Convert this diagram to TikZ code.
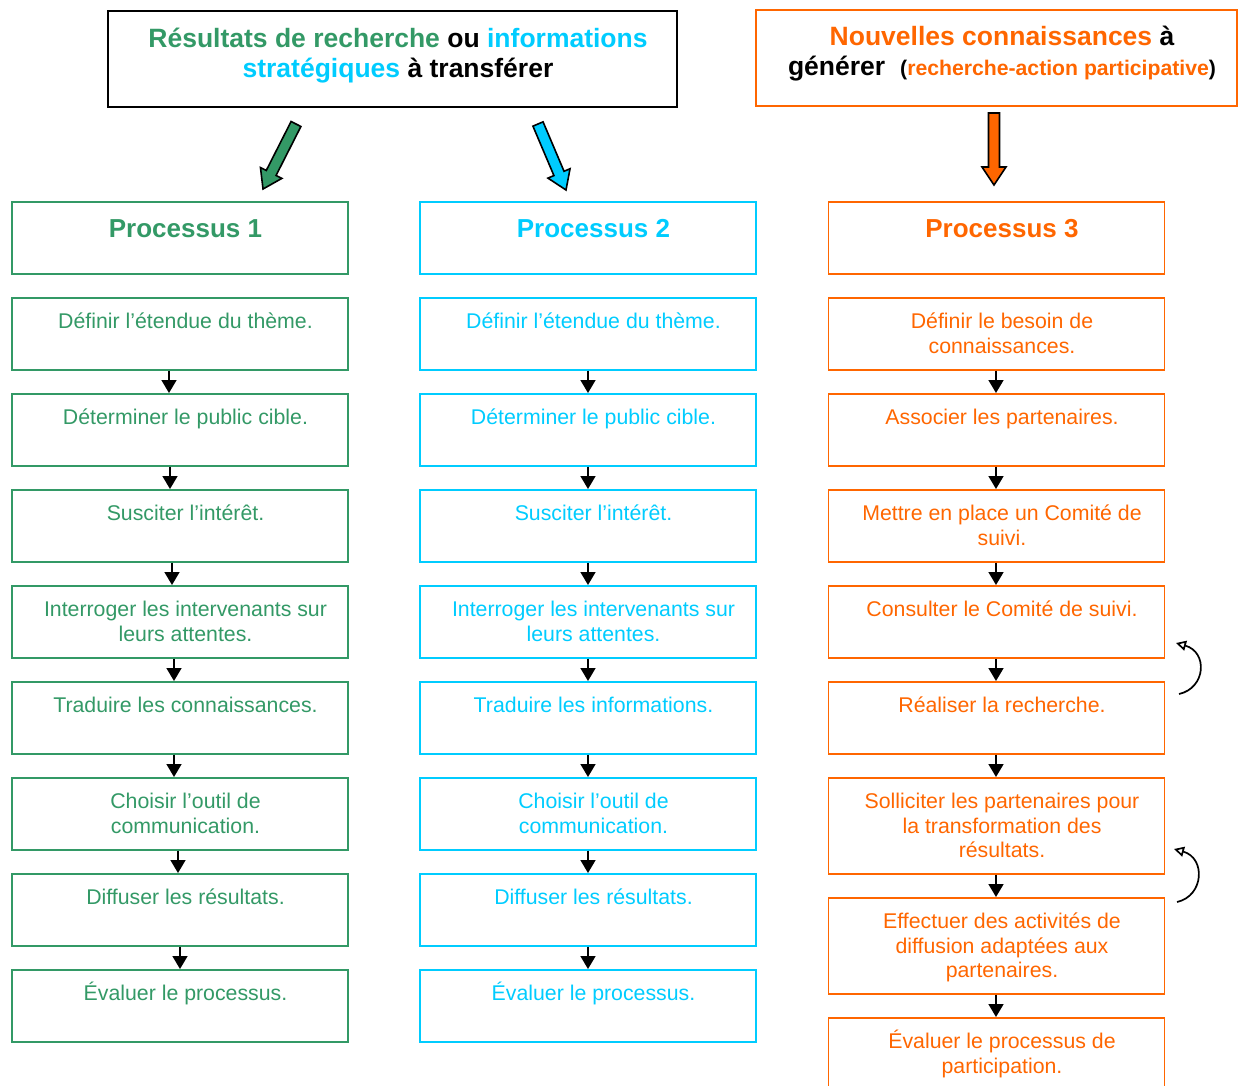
\documentclass[tikz,border=0pt]{standalone}
\usepackage{fontspec}
\setmainfont{Liberation Sans}
\usetikzlibrary{arrows.meta}
\definecolor{pgreen}{HTML}{339966}
\definecolor{pcyan}{HTML}{00CCFF}
\definecolor{porange}{HTML}{FF6600}
\newcommand\stxt[2][336]{\hspace*{11pt}\parbox[t]{\dimexpr#1pt-11pt\relax}{\centering #2}}
\newcommand\blockarrow[4]{%
  \draw[line width=1.6pt, fill=#1, line join=miter, shift={#2}, rotate=#3]
    (0,-5.5) -- (#4-18,-5.5) -- (#4-18,-12) -- (#4,0) -- (#4-18,12) -- (#4-18,5.5) -- (0,5.5) -- cycle;}
\tikzset{
  stepbox/.style={draw=#1, text=#1, line width=1.7pt, anchor=north, inner sep=0pt,
    minimum width=336pt, text height=31pt, text depth=41pt,
    font=\fontsize{21.3pt}{24.5pt}\selectfont},
  headbox/.style={stepbox=#1, text height=36pt, text depth=36pt,
    font=\fontsize{26pt}{30pt}\selectfont\bfseries},
  titlebox/.style={draw=#1, line width=1.7pt, anchor=north, inner sep=0pt,
    text height=37pt, text depth=59pt, font=\fontsize{26.5pt}{30pt}\selectfont\bfseries},
  flow/.style={-{Triangle[length=13pt,width=15pt]}, line width=1.7pt, black},
  backarrow/.style={-{Triangle[open,length=10pt,width=10pt]}, line width=1.7pt, black},
}
\begin{document}
\begin{tikzpicture}[x=1pt,y=-1pt]
\useasboundingbox (0,0) rectangle (1239,1086);

% titles
\node[titlebox=black, minimum width=569pt] (t1) at (392.5,10)
  {\stxt[569]{\textcolor{pgreen}{Résultats de recherche} ou \textcolor{pcyan}{informations}\\
   \textcolor{pcyan}{stratégiques} à transférer}};
\node[titlebox=porange, minimum width=481pt, text height=36pt, text depth=60pt] (t2) at (996.5,9)
  {\stxt[481]{\textcolor{porange}{Nouvelles connaissances} à\\
   générer\hspace{15pt}{\fontsize{21.2pt}{30pt}\selectfont(\textcolor{porange}{recherche-action participative})}}};

% block arrows
\blockarrow{pgreen}{(296,124)}{243.1}{72.9}
\blockarrow{pcyan}{(538,124)}{293.0}{71.7}
\blockarrow{porange}{(994,113)}{270}{72}

% column 1
\node[headbox=pgreen] (h1) at (180,201) {\stxt{Processus 1}};
\node[stepbox=pgreen] (a1) at (180,297) {\stxt{Définir l’étendue du thème.}};
\node[stepbox=pgreen] (a2) at (180,393) {\stxt{Déterminer le public cible.}};
\node[stepbox=pgreen] (a3) at (180,489) {\stxt{Susciter l’intérêt.}};
\node[stepbox=pgreen] (a4) at (180,585) {\stxt{Interroger les intervenants sur\\leurs attentes.}};
\node[stepbox=pgreen] (a5) at (180,681) {\stxt{Traduire les connaissances.}};
\node[stepbox=pgreen] (a6) at (180,777) {\stxt{Choisir l’outil de\\communication.}};
\node[stepbox=pgreen] (a7) at (180,873) {\stxt{Diffuser les résultats.}};
\node[stepbox=pgreen] (a8) at (180,969) {\stxt{Évaluer le processus.}};

% column 2
\node[headbox=pcyan] (h2) at (588,201) {\stxt{Processus 2}};
\node[stepbox=pcyan] (b1) at (588,297) {\stxt{Définir l’étendue du thème.}};
\node[stepbox=pcyan] (b2) at (588,393) {\stxt{Déterminer le public cible.}};
\node[stepbox=pcyan] (b3) at (588,489) {\stxt{Susciter l’intérêt.}};
\node[stepbox=pcyan] (b4) at (588,585) {\stxt{Interroger les intervenants sur\\leurs attentes.}};
\node[stepbox=pcyan] (b5) at (588,681) {\stxt{Traduire les informations.}};
\node[stepbox=pcyan] (b6) at (588,777) {\stxt{Choisir l’outil de\\communication.}};
\node[stepbox=pcyan] (b7) at (588,873) {\stxt{Diffuser les résultats.}};
\node[stepbox=pcyan] (b8) at (588,969) {\stxt{Évaluer le processus.}};

% column 3
\node[headbox=porange] (h3) at (996.5,201) {\stxt{Processus 3}};
\node[stepbox=porange] (c1) at (996.5,297) {\stxt{Définir le besoin de\\connaissances.}};
\node[stepbox=porange] (c2) at (996.5,393) {\stxt{Associer les partenaires.}};
\node[stepbox=porange] (c3) at (996.5,489) {\stxt{Mettre en place un Comité de\\suivi.}};
\node[stepbox=porange] (c4) at (996.5,585) {\stxt{Consulter le Comité de suivi.}};
\node[stepbox=porange] (c5) at (996.5,681) {\stxt{Réaliser la recherche.}};
\node[stepbox=porange, text depth=65pt] (c6) at (996.5,777) {\stxt{Solliciter les partenaires pour\\la transformation des\\résultats.}};
\node[stepbox=porange, text depth=65pt] (c7) at (996.5,897) {\stxt{Effectuer des activités de\\diffusion adaptées aux\\partenaires.}};
\node[stepbox=porange, text depth=100pt] (c8) at (996.5,1017) {\stxt{Évaluer le processus de\\participation.}};

% flow arrows column 1
\draw[flow] ([xshift=-11pt]a1.south) -- ([xshift=-11pt]a2.north);
\draw[flow] ([xshift=-10pt]a2.south) -- ([xshift=-10pt]a3.north);
\draw[flow] ([xshift=-8pt]a3.south) -- ([xshift=-8pt]a4.north);
\draw[flow] ([xshift=-6pt]a4.south) -- ([xshift=-6pt]a5.north);
\draw[flow] ([xshift=-6pt]a5.south) -- ([xshift=-6pt]a6.north);
\draw[flow] ([xshift=-2pt]a6.south) -- ([xshift=-2pt]a7.north);
\draw[flow] (a7.south) -- (a8.north);
% columns 2 and 3
\foreach \i [count=\j from 2] in {1,...,7}{
  \draw[flow] (b\i.south) -- (b\j.north);
  \draw[flow] ([xshift=-0.5pt]c\i.south) -- ([xshift=-0.5pt]c\j.north);
}

% feedback arrows
\coordinate (l1s) at (1179,694);
\coordinate (l1e) at (1176,643);
\draw[backarrow] (l1s) .. controls (1206,688) and (1208,652) .. (l1e);
\coordinate (l2s) at (1177,902);
\coordinate (l2e) at (1174,849);
\draw[backarrow] (l2s) .. controls (1204,896) and (1206,858) .. (l2e);
\end{tikzpicture}
\end{document}
